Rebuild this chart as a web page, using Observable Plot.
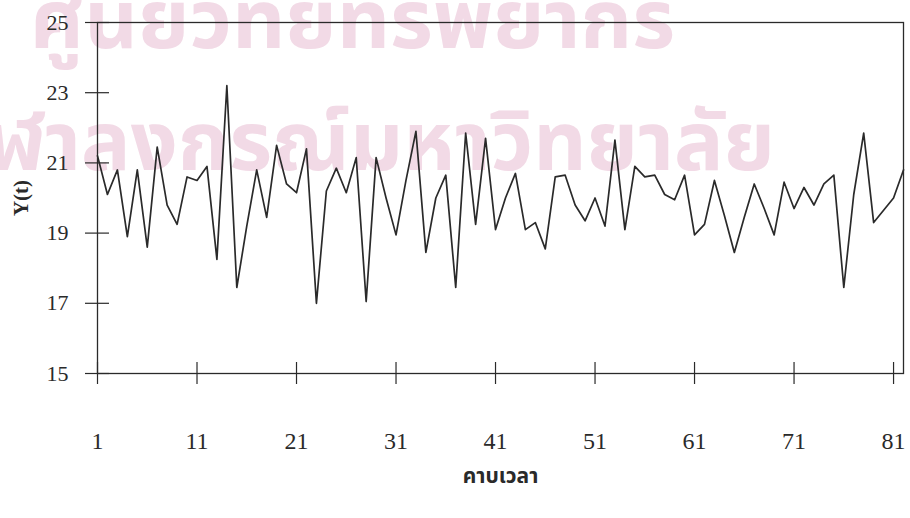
<!DOCTYPE html>
<html>
<head>
<meta charset="utf-8">
<script src="https://cdn.jsdelivr.net/npm/d3@7"></script>
<script src="https://cdn.jsdelivr.net/npm/@observablehq/plot@0.6"></script>
<style>
  body { margin: 0; background: #fff; }
  #wrap { position: relative; width: 910px; height: 518px; overflow: hidden; }
  .wm { position: absolute; color: #f2dae6; font-family: "Noto Sans Thai", "Noto Sans", "DejaVu Sans", sans-serif; font-weight: bold; white-space: nowrap; line-height: 1; font-size: 82px; transform-origin: 0 0; }
  #chart { position: absolute; left: 0; top: 0; }
  g[aria-label="x-axis label"] { font-size: 21px; font-weight: bold; font-family: "Noto Sans Thai", "Noto Sans", "DejaVu Sans", sans-serif; }
  g[aria-label="y-axis label"] { font-size: 21px; font-weight: bold; }
</style>
</head>
<body>
<div id="wrap">
  <div class="wm" id="wm1" style="left:30px;top:-18px"></div>
  <div class="wm" id="wm2" style="left:-60px;top:104px"></div>
  <div id="chart"></div>
</div>
<script>
// Series values Y(t), t = 1..82
const values = [
  21.2, 20.1, 20.8, 18.9, 20.8, 18.6, 21.45, 19.8, 19.25, 20.6,
  20.5, 20.9, 18.25, 23.2, 17.45, 19.2, 20.8, 19.45, 21.5, 20.4,
  20.15, 21.4, 17.0, 20.2, 20.85, 20.15, 21.15, 17.05, 21.15, 20.0,
  18.95, 20.5, 21.9, 18.45, 20.0, 20.65, 17.45, 21.85, 19.25, 21.7,
  19.1, 20.0, 20.7, 19.1, 19.3, 18.55, 20.6, 20.65, 19.8, 19.35,
  20.0, 19.2, 21.65, 19.1, 20.9, 20.6, 20.65, 20.1, 19.95, 20.65,
  18.95, 19.25, 20.5, 19.5, 18.45, 19.45, 20.4, 19.7, 18.95, 20.45,
  19.7, 20.3, 19.8, 20.4, 20.65, 17.45, 20.1, 21.85, 19.3, 19.65,
  20.0, 20.8
];
const xTicks = [1, 11, 21, 31, 41, 51, 61, 71, 81];
const yTicks = [15, 17, 19, 21, 23, 25];
const xDomain = [1, 82];
const yDomain = [15, 25];
const xLabel = "คาบเวลา";
const yLabel = "Y(t)";
const watermark = ["ศูนย์วิทยทรัพยากร", "จุฬาลงกรณ์มหาวิทยาลัย"];
const watermarkWidths = [645, 835];

watermark.forEach((txt, i) => {
  const el = document.getElementById("wm" + (i + 1));
  el.textContent = txt;
  const w = el.getBoundingClientRect().width;
  if (w > 0) el.style.transform = `scaleX(${watermarkWidths[i] / w})`;
});

const data = values.map((v, i) => ({t: i + 1, y: v}));
const ink = "#2a2a2a";

const chart = Plot.plot({
  width: 910,
  height: 518,
  marginLeft: 97,
  marginRight: 7,
  marginTop: 22,
  marginBottom: 145,
  style: {background: "transparent", fontFamily: "'Liberation Serif', 'DejaVu Serif', serif", color: ink, overflow: "visible"},
  x: {domain: xDomain},
  y: {domain: yDomain},
  marks: [
    Plot.frame({stroke: ink, strokeWidth: 1.3}),
    Plot.axisX({ticks: xTicks, tickSize: 11, tickPadding: 47, fontSize: 24, tickFormat: d => String(d),
      label: xLabel, labelAnchor: "center", labelOffset: 109, labelArrow: "none", stroke: ink, strokeWidth: 1.2}),
    Plot.axisX({ticks: xTicks, tickSize: -11, tickFormat: () => "", label: null, stroke: ink, strokeWidth: 1.2}),
    Plot.axisY({ticks: yTicks, tickSize: 12, tickPadding: 17, fontSize: 22, tickFormat: d => String(d),
      label: yLabel, labelAnchor: "center", labelOffset: 84, labelArrow: "none", stroke: ink, strokeWidth: 1.2}),
    Plot.axisY({ticks: yTicks, tickSize: -12, tickFormat: () => "", label: null, stroke: ink, strokeWidth: 1.2}),
    Plot.line(data, {x: "t", y: "y", stroke: ink, strokeWidth: 1.7})
  ]
});
document.getElementById("chart").appendChild(chart);
</script>
</body>
</html>
